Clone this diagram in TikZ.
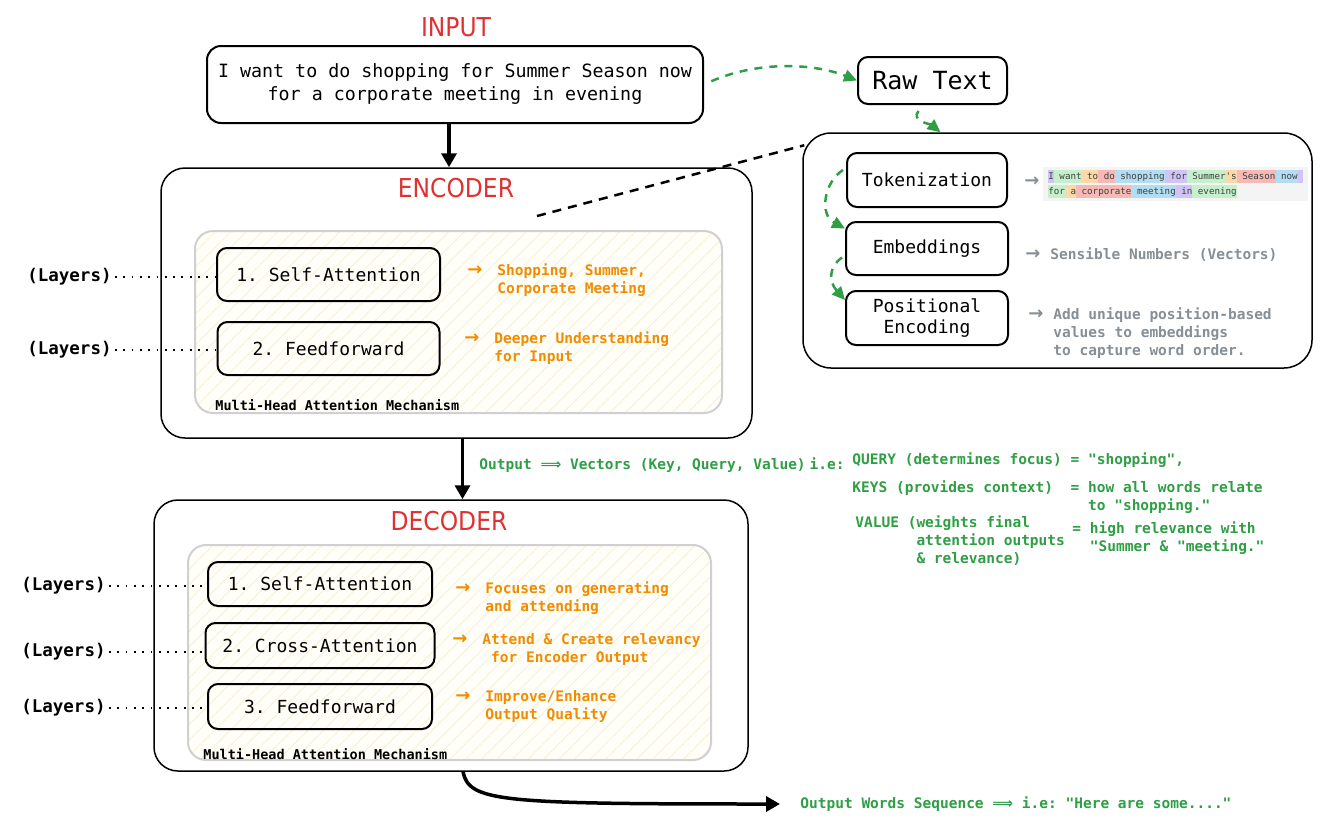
\documentclass[tikz,border=0pt]{standalone}
\usepackage{fontspec}
\setmonofont{DejaVu Sans Mono}
\newfontfamily\headfont{DejaVu Sans Condensed}
\newfontfamily\arrowfont{DejaVu Sans}
\usetikzlibrary{positioning,arrows.meta,patterns.meta}

\definecolor{hdred}{HTML}{E03131}
\definecolor{notegreen}{HTML}{2F9E44}
\definecolor{noteorange}{HTML}{F08C00}
\definecolor{notegray}{HTML}{868E96}
\definecolor{mhaline}{HTML}{D0D0D0}
\definecolor{mhafill}{HTML}{FFFEF8}
\definecolor{mhahatch}{HTML}{F6F0D6}
\definecolor{tkbg}{HTML}{F4F4F4}
\definecolor{tkP}{HTML}{D0C4F4}
\definecolor{tkG}{HTML}{C6F0CC}
\definecolor{tkO}{HTML}{FAD9AA}
\definecolor{tkR}{HTML}{F6B9B5}
\definecolor{tkB}{HTML}{B2DDF2}

\newcommand{\tok}[2]{{\setlength{\fboxsep}{0pt}\colorbox{#1}{#2\vrule height 9.3pt depth 3.2pt width 0pt}}}
\newcommand{\narrow}{{\arrowfont\bfseries\fontsize{18}{18}\selectfont →}}
\newcommand{\onote}{\narrow\hspace{15pt}}
\newcommand{\gnote}{\narrow\hspace{10pt}}
\newcommand{\dbl}{{\arrowfont ⟹}}

\begin{document}
\begin{tikzpicture}[x=1pt,y=-1pt,
                    thick,
                    node distance=60pt,
                    block/.style={draw,line width=2pt,rounded corners=10pt,inner sep=4pt,
                                  font=\ttfamily\fontsize{18}{22}\selectfont},
                    panel/.style={draw,line width=1.5pt,rounded corners=24pt},
                    mha/.style={draw=mhaline,line width=2pt,rounded corners=18pt,
                                preaction={fill=mhafill},
                                pattern={Lines[angle=45,distance=11pt,line width=0.8pt]},
                                pattern color=mhahatch},
                    heading/.style={text=hdred,font=\headfont\fontsize{26}{30}\selectfont},
                    mha label/.style={anchor=west,inner sep=0pt,font=\ttfamily\bfseries\fontsize{13.5}{16}\selectfont},
                    layers/.style={anchor=east,inner sep=0pt,font=\ttfamily\bfseries\fontsize{17.5}{20}\selectfont},
                    orange note/.style={anchor=west,align=left,inner sep=0pt,text=noteorange,
                                        font=\ttfamily\bfseries\fontsize{14.5}{18}\selectfont},
                    gray note/.style={anchor=west,align=left,inner sep=0pt,text=notegray,
                                      font=\ttfamily\bfseries\fontsize{14.5}{18}\selectfont},
                    green note/.style={anchor=west,align=left,inner sep=0pt,text=notegreen,
                                       font=\ttfamily\bfseries\fontsize{14.5}{18}\selectfont},
                    big arrow/.style={line width=3.5pt,-{Triangle[length=14pt,width=15pt]}},
                    flow/.style={draw=notegreen,line width=2.5pt,dash pattern=on 8pt off 7pt,
                                 -{Triangle[length=13pt,width=12pt]}},
                    layer link/.style={line width=1.8pt,dash pattern=on 1.8pt off 6.5pt}]

  \useasboundingbox (0,0) rectangle (1339,836);

  % input
  \node[heading] (inhead) at (456,27) {INPUT};
  \node[block,rounded corners=14pt,minimum width=496pt,minimum height=77pt,align=center,
        font=\ttfamily\fontsize{18.3}{23}\selectfont] (input) at (455,84.5)
       {I want to do shopping for Summer Season now\\for a corporate meeting in evening};
  \node[block,minimum width=149pt,minimum height=47pt,
        font=\ttfamily\fontsize{25}{28}\selectfont] (raw) at (932.5,80.5) {Raw Text};

  % embedding steps
  \node[panel,rounded corners=28pt,minimum width=509pt,minimum height=235pt] (embpanel) at (1057.5,250.5) {};
  \node[block,minimum width=160pt,minimum height=54pt] (tok) at (927,180) {Tokenization};
  \node[block,minimum width=162pt,minimum height=53pt,node distance=68.5pt,below of=tok] (emb) {Embeddings};
  \node[block,minimum width=162pt,minimum height=54pt,align=center,node distance=69.5pt,below of=emb,
        font=\ttfamily\fontsize{18}{21}\selectfont] (pos) {Positional\\Encoding};
  \node[gray note] (toknote) at (1024,182) {\narrow};
  \node[anchor=west,fill=tkbg,inner xsep=5pt,inner ysep=3pt,align=left,text=black!75,
        font=\ttfamily\fontsize{9.2}{15}\selectfont] (tokens) at (1043,184)
       {\tok{tkP}{I}\tok{tkG}{ want}\tok{tkO}{ to}\tok{tkR}{ do}\tok{tkB}{ shopping}\tok{tkP}{ for}\tok{tkG}{ Summer}\tok{tkO}{'s}\tok{tkR}{ Season}\tok{tkB}{ now}\tok{tkP}{ }\\
        \tok{tkG}{for}\tok{tkO}{ a}\tok{tkR}{ corporate}\tok{tkB}{ meeting}\tok{tkP}{ in}\tok{tkG}{ evening}};
  \node[gray note] (embnote) at (1025,255) {\gnote Sensible Numbers (Vectors)};
  \node[gray note] (posnote) at (1028,333)
       {\gnote Add unique position-based\\\hphantom{\gnote}values to embeddings\\\hphantom{\gnote}to capture word order.};

  % encoder
  \node[panel,minimum width=591pt,minimum height=270pt] (enc) at (456.5,303) {};
  \node[heading] (enchead) at (456,188) {ENCODER};
  \node[mha,minimum width=527pt,minimum height=182pt] (encmha) at (458.5,322) {};
  \node[mha label] (enclabel) at (215,405) {Multi-Head Attention Mechanism};
  \node[block,minimum width=223pt,minimum height=53pt] (esa) at (328.5,274.5) {1. Self-Attention};
  \node[block,minimum width=222pt,minimum height=53pt,node distance=74pt,below of=esa] (eff) {2. Feedforward};
  \node[orange note] (esanote) at (467,280) {\onote Shopping, Summer,\\\hphantom{\onote}Corporate Meeting};
  \node[orange note] (effnote) at (464,348) {\onote Deeper Understanding\\\hphantom{\onote}for Input};
  \node[layers] (lay1) at (112,277) {(Layers)};
  \node[layers] (lay2) at (112,350) {(Layers)};

  % decoder
  \node[panel,minimum width=594pt,minimum height=271pt] (dec) at (451,635.5) {};
  \node[heading] (dechead) at (449,521) {DECODER};
  \node[mha,minimum width=523pt,minimum height=215pt] (decmha) at (449.5,652.5) {};
  \node[mha label] (declabel) at (203,754) {Multi-Head Attention Mechanism};
  \node[block,minimum width=224pt,minimum height=44pt] (dsa) at (320,584) {1. Self-Attention};
  \node[block,minimum width=229pt,minimum height=45pt,node distance=61.5pt,below of=dsa] (dca) {2. Cross-Attention};
  \node[block,minimum width=224pt,minimum height=45pt,node distance=61pt,below of=dca] (dff) {3. Feedforward};
  \node[orange note] (dsanote) at (455,598) {\onote Focuses on generating\\\hphantom{\onote}and attending};
  \node[orange note] (dcanote) at (452,649) {\onote Attend \& Create relevancy\\\hphantom{\onote} for Encoder Output};
  \node[orange note] (dffnote) at (455,706) {\onote Improve/Enhance\\\hphantom{\onote}Output Quality};
  \node[layers] (lay3) at (106,586) {(Layers)};
  \node[layers] (lay4) at (106,652) {(Layers)};
  \node[layers] (lay5) at (106,708) {(Layers)};

  % key / query / value
  \node[green note] (outvec) at (479,465) {Output \dbl\ Vectors (Key, Query, Value)\hspace{4pt}i.e:};
  \node[green note] (kquery) at (852,460) {QUERY (determines focus) = "shopping",};
  \node[green note] (kkeys) at (852,497)
       {KEYS (provides context)~ = how all words relate\\\hphantom{KEYS (provides context)~ = }to "shopping."};
  \node[green note] (kvalue) at (855,540.5)
       {VALUE (weights final\\\hphantom{VALUE (}attention outputs\\\hphantom{VALUE (}\& relevance)};
  \node[green note] (kvaluedef) at (1072,538) {= high relevance with\\\hphantom{= }"Summer \& "meeting."};
  \node[green note] (owords) at (800,804) {Output Words Sequence \dbl\ i.e: "Here are some...."};

  \coordinate (enclink) at (537,216);

  \draw[big arrow] ([xshift=-6pt]input.south) -- ([xshift=-6pt]input.south |- enc.north);
  \draw[big arrow] ([xshift=6pt]enc.south) -- ([xshift=6pt]enc.south |- dec.north);
  \draw[big arrow] ([xshift=12pt]dec.south) .. controls +(6,30) and +(-280,0) .. ([xshift=-20pt]owords.west);

  \draw[flow,shorten <=8pt] (input.east) .. controls +(52,-23) and +(-45,-18) .. (raw.west);
  \draw[flow] ([xshift=-14pt,yshift=-6pt]raw.south) .. controls +(-8,10) and +(-10,-8) .. ([xshift=8pt]raw.south |- embpanel.north);
  \draw[flow] ([xshift=-3pt,yshift=10pt]tok.west) .. controls +(-19,12) and +(-26,-14) .. ([yshift=20pt]emb.west);
  \draw[flow] ([xshift=-3pt,yshift=-9pt]emb.west) .. controls +(-14,10) and +(-16,-18) .. ([yshift=18pt]pos.west);

  \draw[line width=2.5pt,dash pattern=on 9pt off 7pt] (enclink) -- ([xshift=2pt,yshift=-13pt]embpanel.north west);

  \path[layer link,shorten <=3pt]
    (lay1.east) edge (lay1.east -| esa.west)
    (lay2.east) edge (lay2.east -| eff.west)
    (lay3.east) edge (lay3.east -| dsa.west)
    (lay4.east) edge (lay4.east -| dca.west)
    (lay5.east) edge (lay5.east -| dff.west);
\end{tikzpicture}
\end{document}
